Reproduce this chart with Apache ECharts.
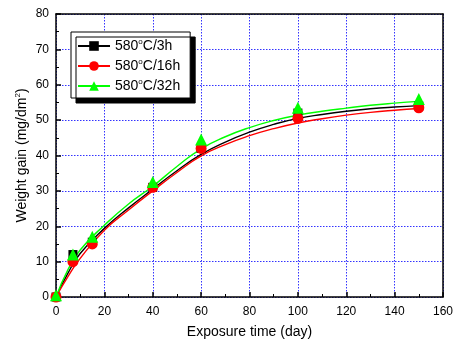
<!DOCTYPE html>
<html>
<head>
<meta charset="utf-8">
<script src="https://cdn.jsdelivr.net/npm/echarts@6/dist/echarts.min.js"></script>
<style>
  html, body { margin: 0; padding: 0; background: #fff; }
  #chart { width: 456px; height: 341px; }
</style>
</head>
<body>
<div id="chart"></div>
<script>
// measured points: exposure time (day) and weight gain (mg/dm2)
const days = [0, 7, 15, 40, 60, 100, 150]
const gain3h = [0, 12, 15.5, 31, 42, 52, 54]
const gain16h = [0, 10, 15, 31, 42, 50.5, 53.5]
const gain32h = [0.5, 12, 17, 32.5, 44.5, 53.5, 56]

// fitted curves
const fitDays = [0, 5, 10, 20, 30, 40, 50, 60, 70, 80, 90, 100, 110, 120, 130, 140, 150]
const fit3h = [0, 6.8, 12.3, 19.4, 25.2, 30.5, 35.7, 40.3, 43.8, 46.6, 48.8, 50.5, 51.6, 52.5, 53.2, 53.7, 54.1]
const fit16h = [0, 5.8, 10.9, 18.9, 24.6, 30, 35.2, 39.9, 43.1, 45.6, 47.6, 49.2, 50.4, 51.4, 52.2, 52.8, 53.3]
const fit32h = [0, 7.8, 13.3, 20.3, 26.3, 31.3, 36.9, 41.9, 45.3, 47.9, 49.9, 51.4, 52.5, 53.4, 54.2, 54.8, 55.3]

const legendText = {
  a: '580{s|o}C/3h',
  b: '580{s|o}C/16h',
  c: '580{s|o}C/32h',
}

const chart = echarts.init(document.getElementById('chart'))
const font = 'Liberation Sans, Arial, sans-serif'

function pairs(xs, ys) {
  return xs.map((x, i) => [x, ys[i]])
}

function curve(key, ys, color, symbol, size) {
  return {
    name: key,
    type: 'line',
    data: pairs(fitDays, ys),
    smooth: true,
    symbol: symbol,
    symbolSize: size,
    showSymbol: false,
    lineStyle: { color: color, width: 1.4 },
    itemStyle: { color: color },
    z: 2,
  }
}

function marks(key, ys, color, symbol, size) {
  return {
    name: key + '-pts',
    type: 'scatter',
    data: pairs(days, ys),
    symbol: symbol,
    symbolSize: size,
    itemStyle: { color: color, opacity: 1 },
    z: 3,
  }
}

const axisLine = { show: true, onZero: false, lineStyle: { color: '#000', width: 1.5 } }
const grid = { show: true, lineStyle: { color: '#3333ff', type: [1.5, 1.5], width: 1 } }
const sup = { fontSize: 8, verticalAlign: 'top', padding: [0, 0, 8, 0], fontFamily: font }

const option = {
  animation: false,
  grid: { left: 56, right: 13, top: 14, bottom: 44, outerBoundsMode: 'none', containLabel: false },
  legend: {
    data: ['a', 'b', 'c'],
    orient: 'vertical',
    left: 71,
    top: 32,
    itemWidth: 32,
    itemHeight: 12,
    itemGap: 5,
    padding: [6, 10, 5, 6],
    backgroundColor: '#fff',
    borderColor: '#000',
    borderWidth: 1,
    borderRadius: 0,
    shadowColor: '#000',
    shadowBlur: 0,
    shadowOffsetX: 5,
    shadowOffsetY: 5,
    formatter: k => legendText[k],
    textStyle: {
      fontFamily: font,
      fontSize: 14,
      color: '#000',
      rich: { s: sup },
    },
  },
  xAxis: [
    {
      type: 'value',
      min: 0,
      max: 160,
      interval: 20,
      name: 'Exposure time (day)',
      nameLocation: 'middle',
      nameGap: 28,
      nameTextStyle: { fontFamily: font, fontSize: 14, color: '#000' },
      axisLine: axisLine,
      axisTick: { show: true, inside: true, length: 5, lineStyle: { color: '#000', width: 1.5 } },
      minorTick: { show: true, splitNumber: 2, length: 3, lineStyle: { color: '#000', width: 1 } },
      axisLabel: { fontFamily: font, fontSize: 12, color: '#000', margin: 9 },
      splitLine: grid,
    },
    {
      type: 'value',
      position: 'top',
      min: 0,
      max: 160,
      interval: 20,
      axisLine: axisLine,
      axisTick: { show: false },
      axisLabel: { show: false },
      splitLine: { show: false },
    },
  ],
  yAxis: [
    {
      type: 'value',
      min: 0,
      max: 80,
      interval: 10,
      name: 'Weight gain (mg/dm{s|2})',
      nameLocation: 'middle',
      nameGap: 26,
      nameMoveOverlap: false,
      nameTextStyle: { fontFamily: font, fontSize: 14, color: '#000', rich: { s: sup } },
      axisLine: axisLine,
      axisTick: { show: true, inside: true, length: 5, lineStyle: { color: '#000', width: 1.5 } },
      minorTick: { show: true, splitNumber: 2, length: 3, lineStyle: { color: '#000', width: 1 } },
      axisLabel: { fontFamily: font, fontSize: 12, color: '#000', margin: 7 },
      splitLine: grid,
    },
    {
      type: 'value',
      position: 'right',
      min: 0,
      max: 80,
      interval: 10,
      axisLine: axisLine,
      axisTick: { show: false },
      axisLabel: { show: false },
      splitLine: { show: false },
    },
  ],
  series: [
    curve('a', fit3h, '#000000', 'rect', 9),
    curve('b', fit16h, '#ff0000', 'circle', 11),
    curve('c', fit32h, '#00ff00', 'triangle', 12),
    marks('a', gain3h, '#000000', 'rect', 9),
    marks('b', gain16h, '#ff0000', 'circle', 11),
    marks('c', gain32h, '#00ff00', 'triangle', 12),
  ],
}

chart.setOption(option)
</script>
</body>
</html>
